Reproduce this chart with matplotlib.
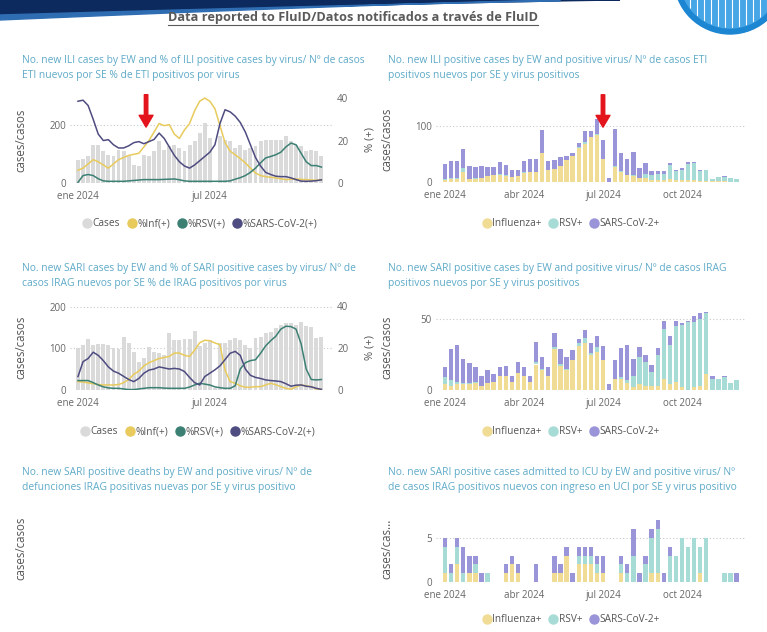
import numpy as np
import pandas as pd
import matplotlib
matplotlib.use('Agg')
import matplotlib.pyplot as plt
from matplotlib.lines import Line2D
from matplotlib.patches import Polygon, Circle

plt.rcParams['font.family'] = ['Open Sans', 'DejaVu Sans']

# epidemiological weeks shown in every panel
weeks = pd.date_range('2024-01-01', periods=49, freq='7D')

# --- ILI: cases and % positive by virus
ili_cases = [80, 82, 92, 133, 133, 110, 98, 92, 116, 110, 92, 64, 60, 98, 92, 110, 145, 116, 127, 133,
             121, 110, 133, 145, 173, 208, 156, 0, 162, 150, 145, 121, 133, 116, 121, 127, 145, 150, 150, 148,
             150, 162, 145, 133, 127, 110, 116, 110, 95]
ili_inf = [6, 7, 9, 11, 10, 8.5, 7, 9, 11, 12, 13, 13.5, 14, 17, 20, 24, 28, 27, 27.5, 23,
           21, 25, 28, 34, 38.5, 40, 38.5, 35, 27, 19, 15, 13.3, 11.5, 9.5, 7, 4.7, 3.5, 3, 2.7, 2.4,
           2, 1.6, 1.8, 1.9, 1.7, 1.6, 1.4, 1.3, 1.5]
ili_rsv = [0.3, 3.5, 4, 3.5, 2, 1, 0.8, 0.8, 0.8, 0.8, 1, 1.2, 1.4, 1.6, 1.6, 1.6, 1.6, 1.7, 1.8, 1.9,
           1.5, 1, 0.8, 0.8, 0.8, 0.8, 0.8, 0.8, 0.8, 0.8, 1, 1.8, 2.5, 3.5, 5, 7, 9.5, 11.8, 12.5, 13.3,
           14.5, 17, 18.8, 18, 14, 10, 8.2, 8.2, 7.5]
ili_sars = [38.5, 39, 36.5, 30, 23, 20, 20.4, 18, 16.5, 16.5, 17.5, 19, 19.5, 18.5, 19.5, 20.5, 23.5, 21, 17, 13,
            10, 8, 7, 8.5, 10.5, 12.5, 14.5, 18, 28, 34.5, 33.5, 31.5, 28.5, 24, 18, 12, 8, 5, 4, 3.2,
            3, 3, 2.4, 1.6, 0.9, 0.8, 0.9, 1.1, 1.5]

# --- ILI positive cases by virus
ili_flu = [4, 5, 6, 18, 5, 6, 7, 10, 13, 13, 11, 9, 10, 16, 17, 17, 51, 22, 23, 28,
           40, 47, 60, 68, 80, 84, 41, 0, 26, 18, 12, 10, 7, 7, 4, 4, 4, 5, 4, 4,
           3, 3, 2, 2, 1, 1, 1, 0, 0]
ili_rsvp = [2, 2, 2, 7, 1, 1, 0, 0, 0, 1, 1, 0, 0, 1, 1, 0, 1, 0, 0, 0,
            0, 0, 2, 4, 0, 1, 0, 0, 2, 1, 1, 2, 1, 8, 8, 10, 11, 26, 15, 18,
            30, 31, 18, 19, 4, 8, 8, 7, 5]
ili_covp = [26, 30, 30, 34, 22, 19, 22, 17, 13, 21, 19, 13, 11, 21, 23, 24, 41, 16, 17, 16,
            7, 5, 8, 19, 11, 28, 34, 8, 67, 32, 29, 41, 17, 19, 7, 6, 5, 3, 3, 3,
            3, 2, 1, 1, 0, 0, 1, 1, 0]

# --- SARI: cases and % positive by virus
sari_cases = [102, 108, 122, 108, 110, 110, 108, 100, 98, 128, 112, 92, 68, 76, 104, 92, 88, 84, 136, 120,
              120, 122, 122, 142, 106, 112, 120, 5, 112, 112, 120, 124, 120, 108, 100, 124, 128, 136, 140, 148,
              156, 160, 162, 156, 164, 154, 152, 124, 128]
sari_inf = [4, 3.8, 3.4, 3, 2.6, 2.4, 2.4, 2.4, 2.6, 3.5, 5, 7.5, 9, 11.5, 13, 14, 15, 15.5, 16, 17.6,
            17.6, 16.5, 16, 19, 22.5, 23.7, 23.5, 22.4, 21.6, 9.5, 4, 3.2, 2, 1.3, 1.3, 1.6, 1.6, 2.4, 3.2, 2.5,
            1.6, 0.8, 0.4, 1.5, 2.4, 2, 1.6, 0.5, 0.3]
sari_rsv = [4.5, 4.5, 4.5, 3.5, 2.4, 1.5, 1, 0.8, 0.8, 0.5, 0.2, 0.2, 0.5, 0.8, 1.1, 1.1, 1.1, 0.9, 0.8, 0.8,
            0.8, 0.8, 1.4, 2.4, 3.2, 2.8, 2.4, 1.5, 1.1, 0.8, 0.8, 2, 10, 13, 14, 14.4, 17.5, 21, 23.5, 25.6,
            29, 30.4, 30.2, 29, 22, 10, 5, 4.8, 5]
sari_sars = [6.4, 13.5, 15, 18, 16.5, 14, 11, 9, 8, 6.5, 5, 4, 5.5, 8, 9.5, 10, 11, 10.5, 10, 10.3,
             10, 8.8, 6, 3.5, 2.4, 6.4, 8, 9.6, 11.5, 14.5, 17.5, 18.4, 16.5, 10, 7, 6, 5.5, 4.8, 4.5, 4.3,
             4, 3, 1.8, 2.3, 2.4, 1.8, 1.5, 0.8, 0.3]

# --- SARI positive cases by virus
sari_flu = [4, 3, 4, 4, 4, 5, 3, 5, 6, 10, 10, 6, 12, 10, 6, 18, 14, 10, 29, 17,
            14, 21, 31, 33, 25, 27, 21, 0, 8, 8, 5, 2, 4, 3, 3, 3, 8, 4, 6, 2,
            0, 2, 3, 11, 0, 0, 0, 0, 0]
sari_rsvp = [5, 4, 2, 1, 1, 1, 0, 0, 0, 0, 0, 0, 0, 0, 0, 2, 1, 0, 1, 1,
             1, 0, 2, 4, 1, 3, 0, 0, 0, 1, 2, 8, 19, 17, 10, 22, 35, 28, 39, 44,
             48, 46, 47, 43, 8, 8, 9, 5, 7]
sari_covp = [7, 22, 26, 17, 14, 10, 7, 9, 5, 6, 7, 4, 8, 6, 4, 14, 8, 6, 10, 11,
             8, 7, 3, 5, 7, 8, 10, 4, 13, 21, 25, 12, 7, 5, 5, 5, 6, 6, 4, 1,
             1, 4, 4, 1, 2, 0, 1, 0, 0]

# --- SARI positive cases admitted to ICU by virus
icu_flu = [1, 0, 2, 0, 1, 1, 0, 0, 0, 0, 1, 2, 1, 0, 0, 0, 0, 0, 1, 1,
           3, 0, 2, 2, 2, 1, 1, 0, 0, 1, 0, 0, 0, 0, 1, 1, 0, 0, 0, 0,
           0, 0, 1, 0, 0, 0, 0, 0, 0]
icu_rsv = [3, 1, 2, 1, 0, 1, 0, 1, 0, 0, 0, 0, 0, 0, 0, 0, 0, 0, 0, 0,
           0, 0, 1, 1, 1, 1, 0, 0, 0, 1, 1, 3, 0, 2, 4, 5, 0, 3, 3, 5,
           4, 5, 3, 5, 0, 0, 1, 1, 0]
icu_cov = [1, 1, 1, 3, 2, 1, 1, 0, 0, 0, 1, 1, 1, 0, 0, 2, 0, 0, 2, 1,
           1, 1, 1, 1, 1, 1, 2, 0, 0, 1, 1, 3, 1, 1, 1, 1, 1, 1, 0, 0,
           0, 0, 0, 0, 0, 0, 0, 0, 1]

tick_dates_2 = [pd.Timestamp('2024-01-01'), pd.Timestamp('2024-07-01')]
tick_labels_2 = ['ene 2024', 'jul 2024']
tick_dates_4 = [pd.Timestamp('2024-01-01'), pd.Timestamp('2024-04-01'),
                pd.Timestamp('2024-07-01'), pd.Timestamp('2024-10-01')]
tick_labels_4 = ['ene 2024', 'abr 2024', 'jul 2024', 'oct 2024']

titles = {
    'ili': ['No. new ILI cases by EW and % of ILI positive cases by virus/ N\u00ba de casos',
            'ETI nuevos por SE % de ETI positivos por virus'],
    'ili_pos': ['No. new ILI positive cases by EW and positive virus/ N\u00ba de casos ETI',
                'positivos nuevos por SE y virus positivos'],
    'sari': ['No. new SARI cases by EW and % of SARI positive cases by virus/ N\u00ba de',
             'casos IRAG nuevos por SE % de IRAG positivos por virus'],
    'sari_pos': ['No. new SARI positive cases by EW and positive virus/ N\u00ba de casos IRAG',
                 'positivos nuevos por SE y virus positivos'],
    'deaths': ['No. new SARI positive deaths by EW and positive virus/ N\u00ba de',
               'defunciones IRAG positivas nuevas por SE y virus positivo'],
    'icu': ['No. new SARI positive cases admitted to ICU by EW and positive virus/ N\u00ba',
            'de casos IRAG positivos nuevos con ingreso en UCI por SE y virus positivo'],
}

# colours
c_cases = '#dadada'
c_inf = '#e8cb5c'
c_rsv = '#3c8074'
c_sars = '#4e4c80'
c_flu_b = '#f1dc96'
c_rsv_b = '#a7dbd6'
c_cov_b = '#9a94d8'
c_title = '#5eaac8'
c_tick = '#666666'
c_arrow = '#e3141c'

W, H = 767, 632
fig = plt.figure(figsize=(W / 100, H / 100), dpi=100)
fig.patch.set_facecolor('white')

# header decoration (full figure pixel axes)
bg = fig.add_axes([0, 0, 1, 1])
bg.set_xlim(0, W)
bg.set_ylim(H, 0)
bg.axis('off')
bg.set_zorder(-1)
xs = np.linspace(0, 620, 60)
band = np.r_[np.c_[xs, np.zeros_like(xs)], np.c_[xs[::-1], 15 * (1 - xs[::-1] / 620) ** 1.2]]
bg.add_patch(Polygon(band, closed=True, color='#0c2a5e'))
xs2 = np.linspace(0, 560, 60)
band2 = np.r_[np.c_[xs2, 15 * (1 - xs2 / 620) ** 1.2], np.c_[xs2[::-1], 20 * (1 - xs2[::-1] / 560) ** 1.2]]
bg.add_patch(Polygon(band2, closed=True, color='#2f6db3'))
bg.add_patch(Circle((730, -22), 56, color='#1c86d2'))
ring = Circle((730, -22), 50, color='#47a6e6')
bg.add_patch(ring)
for xl in range(690, 770, 7):
    ln = Line2D([xl, xl], [0, 34], color='white', lw=0.8)
    ln.set_clip_path(ring)
    bg.add_line(ln)

head = fig.text(353 / W, 1 - 17 / H, 'Data reported to FluID/Datos notificados a trav\u00e9s de FluID',
                ha='center', va='center', fontsize=9.2, fontweight='bold', color='#5a5a5a')
fig.canvas.draw()
bb = head.get_window_extent()
bg.add_line(Line2D([bb.x0, bb.x1], [H - bb.y0 + 1, H - bb.y0 + 1], color='#5a5a5a', lw=0.8))


def add_ax(l, t, r, b):
    return fig.add_axes([l / W, 1 - b / H, (r - l) / W, (b - t) / H])


def style(ax, yticks, ylim, ticks, labels, xlim, grid=True):
    ax.set_xlim(xlim)
    ax.set_ylim(ylim)
    ax.set_yticks(yticks)
    ax.set_xticks(ticks)
    ax.set_xticklabels(labels)
    for s in ax.spines.values():
        s.set_visible(False)
    ax.tick_params(length=0, labelsize=7, colors=c_tick, pad=3)
    ax.tick_params(axis='x', pad=5.5)
    if grid:
        for v in yticks[1:]:
            ax.axhline(v, color='#c9c9c9', lw=0.8, ls=(0, (1, 2)), zorder=0)


def put_title(x, y, lines):
    fig.text(x / W, 1 - y / H, lines[0], fontsize=7.4, color=c_title, va='center', ha='left')
    fig.text(x / W, 1 - (y + 15.5) / H, lines[1], fontsize=7.4, color=c_title, va='center', ha='left')


def legend(x, y, labels, colors):
    handles = [Line2D([0], [0], marker='o', ls='', markerfacecolor=c, markeredgecolor=c, markersize=6.5)
               for c in colors]
    fig.legend(handles, labels, loc='center', bbox_to_anchor=(x / W, 1 - y / H), ncol=len(labels),
               frameon=False, fontsize=7.3, handletextpad=0.1, columnspacing=0.7, handlelength=0.9,
               labelcolor='#555555')


jan1 = pd.Timestamp('2024-01-01')
xlim_l = (jan1 - pd.Timedelta(days=11), jan1 + pd.Timedelta(days=352))
xlim_r = (jan1 - pd.Timedelta(days=10.4), jan1 + pd.Timedelta(days=345.6))


def cases_panel(t, b, cases, inf, rsv, sars, ylim_left, yt_left):
    ax = add_ax(70, t, 333, b)
    ax.bar(weeks, cases, width=5.4, color=c_cases, zorder=1)
    style(ax, yt_left, ylim_left, tick_dates_2, tick_labels_2, xlim_l)
    ax.set_ylabel('cases/casos', fontsize=8.3, color='#555555')
    ax.yaxis.set_label_coords((27 - 70) / 263, 0.5)
    ax2 = ax.twinx()
    ax2.plot(weeks, inf, color=c_inf, lw=1.1)
    ax2.plot(weeks, rsv, color=c_rsv, lw=1.1)
    ax2.plot(weeks, sars, color=c_sars, lw=1.1)
    ax2.set_ylim(0, 40.5)
    ax2.set_yticks([0, 20, 40])
    for s in ax2.spines.values():
        s.set_visible(False)
    ax2.tick_params(length=0, labelsize=7, colors=c_tick, pad=3)
    ax2.set_ylabel('% (+)', fontsize=8, color='#555555', rotation=90)
    ax2.yaxis.set_label_coords((365 - 70) / 263, 0.5)
    return ax


def stack_panel(t, b, flu, rsv, cov, ylim, yt, ylabel='cases/casos'):
    ax = add_ax(436, t, 745, b)
    flu = np.array(flu)
    rsv = np.array(rsv)
    cov = np.array(cov)
    ax.bar(weeks, flu, width=5.0, color=c_flu_b, zorder=1)
    ax.bar(weeks, rsv, width=5.0, bottom=flu, color=c_rsv_b, zorder=1)
    ax.bar(weeks, cov, width=5.0, bottom=flu + rsv, color=c_cov_b, zorder=1)
    style(ax, yt, ylim, tick_dates_4, tick_labels_4, xlim_r)
    ax.set_ylabel(ylabel, fontsize=8.3, color='#555555')
    ax.yaxis.set_label_coords((393 - 436) / 309, 0.5)
    return ax


# panel 1: ILI
put_title(22, 60, titles['ili'])
a1 = cases_panel(97, 183, ili_cases, ili_inf, ili_rsv, ili_sars, (0, 298), [0, 200])
legend(200, 224, ['Cases', '%Inf(+)', '%RSV(+)', '%SARS-CoV-2(+)'], [c_cases, c_inf, c_rsv, c_sars])
a1.annotate('', xy=(pd.Timestamp('2024-04-04'), 184), xytext=(0, 38), textcoords='offset pixels',
            arrowprops=dict(arrowstyle='simple,head_width=1.0,head_length=0.85,tail_width=0.25',
                            color=c_arrow, mutation_scale=10), annotation_clip=False)

# panel 2: ILI positives
put_title(388, 60, titles['ili_pos'])
a2 = stack_panel(97, 182, ili_flu, ili_rsvp, ili_covp, (0, 152), [0, 100])
legend(571, 224, ['Influenza+', 'RSV+', 'SARS-CoV-2+'], [c_flu_b, c_rsv_b, c_cov_b])
a2.annotate('', xy=(pd.Timestamp('2024-07-01'), 93), xytext=(0, 38), textcoords='offset pixels',
            arrowprops=dict(arrowstyle='simple,head_width=1.0,head_length=0.85,tail_width=0.25',
                            color=c_arrow, mutation_scale=10), annotation_clip=False)

# panel 3: SARI
put_title(22, 268, titles['sari'])
cases_panel(305, 390, sari_cases, sari_inf, sari_rsv, sari_sars, (0, 204), [0, 100, 200])
legend(198, 432, ['Cases', '%Inf(+)', '%RSV(+)', '%SARS-CoV-2(+)'], [c_cases, c_inf, c_rsv, c_sars])

# panel 4: SARI positives
put_title(388, 268, titles['sari_pos'])
stack_panel(305, 390, sari_flu, sari_rsvp, sari_covp, (0, 60), [0, 50])
legend(571, 432, ['Influenza+', 'RSV+', 'SARS-CoV-2+'], [c_flu_b, c_rsv_b, c_cov_b])

# panel 5: SARI deaths (no data)
put_title(22, 472, titles['deaths'])
a5 = add_ax(70, 515, 333, 582)
a5.set_xticks([])
a5.set_yticks([])
for s in a5.spines.values():
    s.set_visible(False)
a5.set_ylabel('cases/casos', fontsize=8.3, color='#555555')
a5.yaxis.set_label_coords((27 - 70) / 263, 0.5)

# panel 6: ICU
put_title(388, 472, titles['icu'])
stack_panel(515, 582, icu_flu, icu_rsv, icu_cov, (0, 7.6), [0, 5], ylabel='cases/cas...')
legend(571, 620, ['Influenza+', 'RSV+', 'SARS-CoV-2+'], [c_flu_b, c_rsv_b, c_cov_b])

fig.savefig('out.png', dpi=100, facecolor='white')
